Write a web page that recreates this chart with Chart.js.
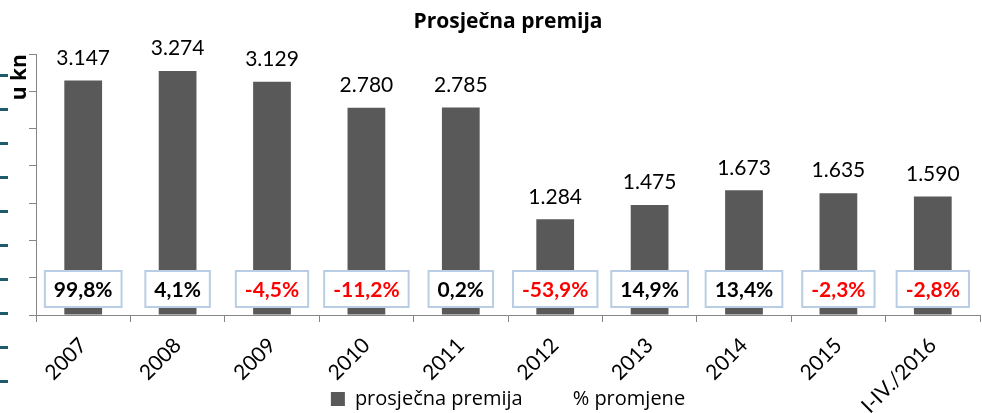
<!DOCTYPE html>
<html>
<head>
<meta charset="utf-8">
<script src="https://cdn.jsdelivr.net/npm/chart.js@4.4.1/dist/chart.umd.min.js"></script>
<style>
  html, body { margin: 0; padding: 0; background: #fff; }
  #wrap { position: relative; width: 982px; height: 413px; }
  #edge {
    position: absolute; left: 0; top: 60px; width: 8px; height: 353px;
    background: repeating-linear-gradient(to bottom,
      transparent 0, transparent 14px, #1f5c6b 14px, #1f5c6b 17px, transparent 17px, transparent 34px);
  }
</style>
</head>
<body>
<div id="wrap">
  <div id="edge"></div>
  <canvas id="c" width="982" height="413"></canvas>
</div>
<script>
// chart data
const years = ['2007', '2008', '2009', '2010', '2011', '2012', '2013', '2014', '2015', 'I-IV./2016'];
const premium = [3147, 3274, 3129, 2780, 2785, 1284, 1475, 1673, 1635, 1590];
const change = [99.8, 4.1, -4.5, -11.2, 0.2, -53.9, 14.9, 13.4, -2.3, -2.8];

const barColor = '#595959';
const axisColor = '#868686';

function fmtThousands(v) {
  return String(v).replace(/\B(?=(\d{3})+(?!\d))/g, '.');
}
function fmtPct(v) {
  return v.toFixed(1).replace('.', ',') + '%';
}

// value labels above bars + percentage boxes near the axis
const labelsPlugin = {
  id: 'labels',
  afterLayout(chart) {
    // let the rotated year labels run down under the legend instead of being clipped
    chart.scales.x.bottom = chart.height;
  },
  afterDatasetsDraw(chart) {
    const ctx = chart.ctx;
    const bars = chart.getDatasetMeta(0).data;
    const area = chart.chartArea;
    ctx.save();
    ctx.textAlign = 'center';
    ctx.textBaseline = 'bottom';
    ctx.fillStyle = '#000';
    ctx.font = '21px Lato';
    bars.forEach((bar, i) => {
      ctx.fillText(fmtThousands(premium[i]), bar.x, bar.y - 12);
    });
    ctx.font = 'bold 21px Lato';
    ctx.textBaseline = 'middle';
    bars.forEach((bar, i) => {
      const txt = fmtPct(change[i]);
      const w = ctx.measureText(txt).width + 18;
      const h = 36;
      const top = area.bottom - 44;
      ctx.fillStyle = '#fff';
      ctx.fillRect(bar.x - w / 2, top, w, h);
      ctx.strokeStyle = '#b9cde5';
      ctx.lineWidth = 2;
      ctx.strokeRect(bar.x - w / 2, top, w, h);
      ctx.fillStyle = change[i] < 0 ? '#ff0000' : '#000';
      ctx.fillText(txt, bar.x, top + h / 2 + 1);
    });
    ctx.restore();
  }
};

new Chart(document.getElementById('c').getContext('2d'), {
  type: 'bar',
  data: {
    labels: years,
    datasets: [{
      label: 'prosječna premija',
      data: premium,
      backgroundColor: barColor,
      barPercentage: 0.4,
      categoryPercentage: 1.0
    }, {
      type: 'line',
      label: '% promjene',
      data: change,
      yAxisID: 'y2',
      showLine: false,
      pointRadius: 0,
      backgroundColor: 'rgba(0,0,0,0)',
      borderColor: 'rgba(0,0,0,0)'
    }]
  },
  options: {
    responsive: false,
    animation: false,
    layout: {padding: {left: 0, right: 2, top: 0, bottom: 0}},
    plugins: {
      title: {
        display: true,
        text: 'Prosječna premija',
        fullSize: false,
        color: '#000',
        font: {family: 'Open Sans', size: 21, weight: 'bold'},
        padding: {top: 9, bottom: 20}
      },
      legend: {
        position: 'bottom',
        fullSize: false,
        maxHeight: 50,
        labels: {
          color: '#000',
          font: {family: 'Open Sans', size: 20},
          boxWidth: 14,
          boxHeight: 14,
          padding: 26
        }
      },
      tooltip: {enabled: false}
    },
    scales: {
      x: {
        offset: true,
        grid: {offset: true, drawOnChartArea: false, tickLength: 7, color: axisColor},
        border: {color: axisColor},
        ticks: {
          color: '#000',
          font: {family: 'Lato', size: 21},
          minRotation: 45,
          maxRotation: 45,
          autoSkip: false,
          padding: 11
        },
        afterFit(scale) { scale.height = 48; }
      },
      y: {
        min: 0,
        max: 3500,
        ticks: {stepSize: 500, display: false},
        grid: {drawOnChartArea: false, tickLength: 7, color: axisColor},
        border: {color: axisColor},
        title: {
          display: true,
          text: 'u kn',
          align: 'end',
          color: '#000',
          font: {family: 'Open Sans', size: 21, weight: 'bold'},
          padding: {top: 7, bottom: 0}
        },
        afterFit(scale) { scale.width = 36; }
      },
      y2: {
        display: false,
        min: -60,
        max: 110
      }
    }
  },
  plugins: [labelsPlugin]
});
</script>
</body>
</html>
